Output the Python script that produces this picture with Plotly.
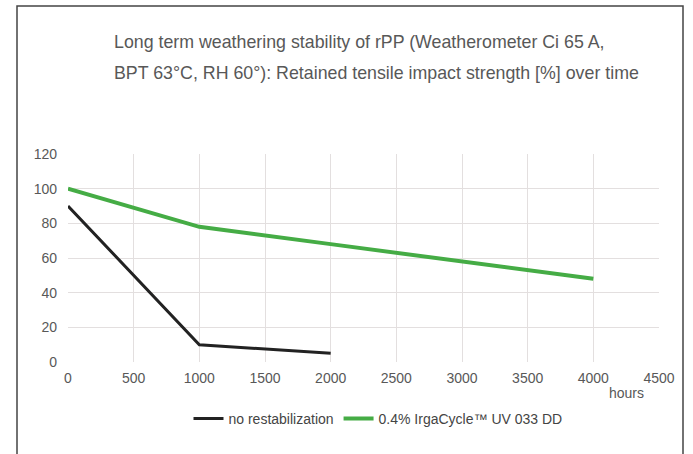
import plotly.graph_objects as go

hours = [0, 1000, 2000]
no_restab = [90, 10, 5]
hours_green = [0, 1000, 2000, 3000, 4000]
irgacycle = [100, 78, 68, 58, 48]
x_ticks = [0, 500, 1000, 1500, 2000, 2500, 3000, 3500, 4000, 4500]
y_ticks = [0, 20, 40, 60, 80, 100, 120]

FONT = "Liberation Sans, Arial, sans-serif"
GRAY = "#585858"

fig = go.Figure()
fig.add_trace(go.Scatter(x=hours, y=no_restab, mode="lines", name="no restabilization",
                         line=dict(color="#222222", width=3)))
fig.add_trace(go.Scatter(x=hours_green, y=irgacycle, mode="lines",
                         name="0.4% IrgaCycle™ UV 033 DD",
                         line=dict(color="#45ac45", width=4)))

W, H = 693, 454
PX0, PX1, PY0, PY1 = 68, 659, 154, 362  # plot area in window pixels
L, T = PX0, PY0
R, B = W - PX1, H - PY1
pw, ph = PX1 - PX0, PY1 - PY0

def px(x):
    return (x - PX0) / pw

def py(y):
    return (PY1 - y) / ph

fig.update_layout(
    width=W, height=H,
    margin=dict(l=L, r=R, t=T, b=B),
    paper_bgcolor="white", plot_bgcolor="white",
    font=dict(family=FONT, color=GRAY, size=14),
    showlegend=True,
    legend=dict(orientation="h", x=px(378), xanchor="center", y=py(419), yanchor="middle",
                font=dict(size=14, color="#444444"), itemwidth=30, tracegroupgap=0),
    xaxis=dict(range=[0, 4500], tickvals=x_ticks, showgrid=True, gridcolor="#e3dfdf",
               gridwidth=1, zeroline=False, showline=False, ticks="",
               ticklabelstandoff=6,
               tickfont=dict(size=14, color=GRAY), fixedrange=True),
    yaxis=dict(range=[0, 120], tickvals=y_ticks, showgrid=True, gridcolor="#e3dfdf",
               gridwidth=1, zeroline=False, showline=False, ticks="",
               ticklabelstandoff=10,
               tickfont=dict(size=14, color=GRAY), fixedrange=True),
    shapes=[dict(type="rect", xref="paper", yref="paper",
                 x0=px(17), x1=px(683), y0=py(470), y1=py(6),
                 line=dict(color="#444444", width=1.5), layer="below")],
    annotations=[
        dict(text="Long term weathering stability of rPP (Weatherometer Ci 65 A,",
             xref="paper", yref="paper", x=px(112), y=py(42), xanchor="left", yanchor="middle",
             showarrow=False, font=dict(size=17.8, color=GRAY, family=FONT)),
        dict(text="BPT 63°C, RH 60°): Retained tensile impact strength [%] over time",
             xref="paper", yref="paper", x=px(112), y=py(73), xanchor="left", yanchor="middle",
             showarrow=False, font=dict(size=17.8, color=GRAY, family=FONT)),
        dict(text="hours", xref="paper", yref="paper", x=px(626), y=py(393),
             xanchor="center", yanchor="middle", showarrow=False,
             font=dict(size=14, color=GRAY, family=FONT)),
    ],
)

fig.write_html("out.html", config={"displayModeBar": False},
               post_script="document.body.style.margin='0px';")
